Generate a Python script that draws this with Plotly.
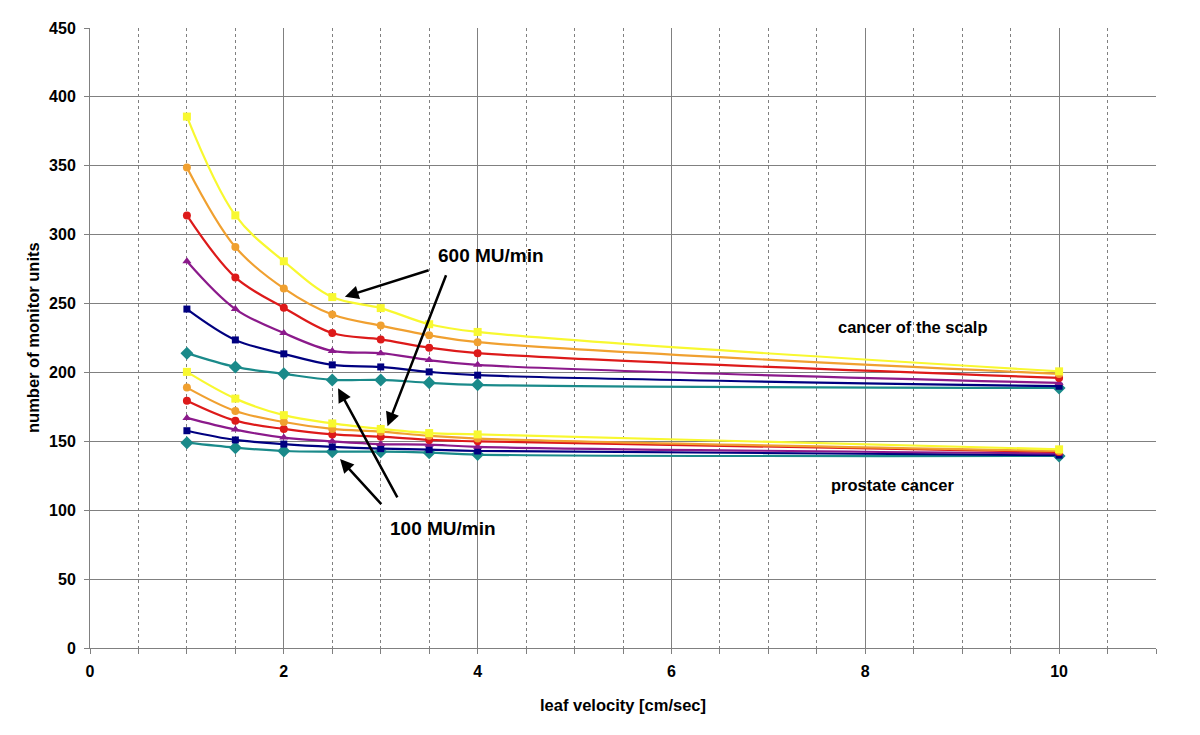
import plotly.graph_objects as go

velocity = [1, 1.5, 2, 2.5, 3, 3.5, 4, 10]

# cancer of the scalp (from 100 MU/min to 600 MU/min)
scalp_teal = [214, 204, 199, 194.6, 194.6, 192.5, 191, 188.8]
scalp_navy = [246, 223.6, 213.5, 205.5, 204, 200.4, 198, 190]
scalp_purple = [280.7, 246, 228.6, 215.6, 214, 209, 205.5, 192.4]
scalp_red = [314, 269, 247, 228.6, 224, 218, 214, 196]
scalp_orange = [348.8, 291, 261, 242, 234, 227, 222, 198.9]
scalp_yellow = [385.7, 314, 280.7, 254.7, 246.7, 235, 229.4, 200.8]

# prostate cancer
prost_teal = [149, 145.4, 143, 142.5, 142.5, 141.8, 140.4, 139.4]
prost_navy = [157.7, 151, 148, 146, 144.7, 144, 143, 140]
prost_purple = [167, 158.5, 152.7, 150, 148, 147.6, 146, 141.2]
prost_red = [179.5, 165, 159, 155, 153.4, 151, 150, 142.3]
prost_orange = [189, 172, 164, 159, 157, 154, 152, 143]
prost_yellow = [200.4, 181, 169, 163, 159, 156, 155, 144.2]

x_ticks = [0, 2, 4, 6, 8, 10]
y_ticks = [0, 50, 100, 150, 200, 250, 300, 350, 400, 450]

styles = [
    ("#1A8A8A", "diamond", 10),
    ("#000080", "square", 7),
    ("#8B1A8B", "triangle-up", 8),
    ("#DD1A1A", "circle", 8),
    ("#F0A030", "circle", 8),
    ("#F8F830", "square", 8),
]

FONT = "Liberation Sans"
fig = go.Figure()
groups = [
    [scalp_teal, scalp_navy, scalp_purple, scalp_red, scalp_orange, scalp_yellow],
    [prost_teal, prost_navy, prost_purple, prost_red, prost_orange, prost_yellow],
]
for group in groups:
    for vals, (col, sym, sz) in zip(group, styles):
        fig.add_trace(go.Scatter(
            x=velocity, y=vals, mode="lines+markers",
            line=dict(color=col, width=2.2, shape="spline", smoothing=1),
            marker=dict(color=col, symbol=sym, size=sz),
            showlegend=False, hoverinfo="x+y"))

grid = "#808080"
fig.update_layout(
    width=1200, height=735,
    margin=dict(l=82, r=52, t=17, b=95),
    plot_bgcolor="white", paper_bgcolor="white",
    showlegend=False,
    font=dict(family=FONT, color="black"),
    xaxis=dict(
        range=[0, 11], tickvals=x_ticks, ticktext=[str(v) for v in x_ticks],
        showgrid=True, gridcolor=grid, gridwidth=1,
        zeroline=False, showline=True, linecolor=grid, linewidth=1,
        ticks="outside", ticklen=5, tickcolor=grid,
        ticklabelstandoff=4,
        tickfont=dict(family=FONT, size=16, weight="bold", color="black"),
        minor=dict(dtick=0.5, tick0=0, showgrid=True, gridcolor=grid,
                   griddash="dot", gridwidth=1, ticks="outside", ticklen=5,
                   tickcolor=grid),
    ),
    yaxis=dict(
        range=[0, 450], tickvals=y_ticks, ticktext=[str(v) for v in y_ticks],
        showgrid=True, gridcolor=grid, gridwidth=1,
        zeroline=False, showline=True, linecolor=grid, linewidth=1,
        ticks="outside", ticklen=5, tickcolor=grid,
        ticklabelstandoff=5,
        tickfont=dict(family=FONT, size=16, weight="bold", color="black"),
    ),
)

annotations = [
    dict(x=0.5, y=0, xref="paper", yref="paper", yanchor="middle",
         xanchor="center", yshift=-57, showarrow=False,
         text="<b>leaf velocity [cm/sec]</b>", font=dict(size=16.5, family=FONT)),
    dict(x=0, y=0.5, xref="paper", yref="paper", xanchor="center",
         yanchor="middle", xshift=-57, showarrow=False,
         text="<b>number of monitor units</b>", textangle=-90,
         font=dict(size=16.5, family=FONT)),
    dict(x=4.14, y=284.6, xref="x", yref="y", showarrow=False,
         text="<b>600 MU/min</b>", font=dict(size=19, family=FONT)),
    dict(x=3.64, y=86.7, xref="x", yref="y", showarrow=False,
         text="<b>100 MU/min</b>", font=dict(size=19, family=FONT)),
    dict(x=8.49, y=233.3, xref="x", yref="y", showarrow=False,
         text="<b>cancer of the scalp</b>", font=dict(size=16.5, family=FONT)),
    dict(x=8.28, y=118.5, xref="x", yref="y", showarrow=False,
         text="<b>prostate cancer</b>", font=dict(size=16.5, family=FONT)),
]
arrows = [
    (3.51, 274.5, 2.63, 255),
    (3.68, 271.6, 3.07, 161),
    (3.18, 108.3, 2.56, 188.5),
    (3.02, 103.3, 2.58, 137.2),
]
for tx, ty, hx, hy in arrows:
    annotations.append(dict(
        x=hx, y=hy, ax=tx, ay=ty, xref="x", yref="y", axref="x", ayref="y",
        text="", showarrow=True, arrowhead=2, arrowsize=1.1, arrowwidth=2.5,
        arrowcolor="black"))
fig.update_layout(annotations=annotations)

fig.write_html("out.html")
